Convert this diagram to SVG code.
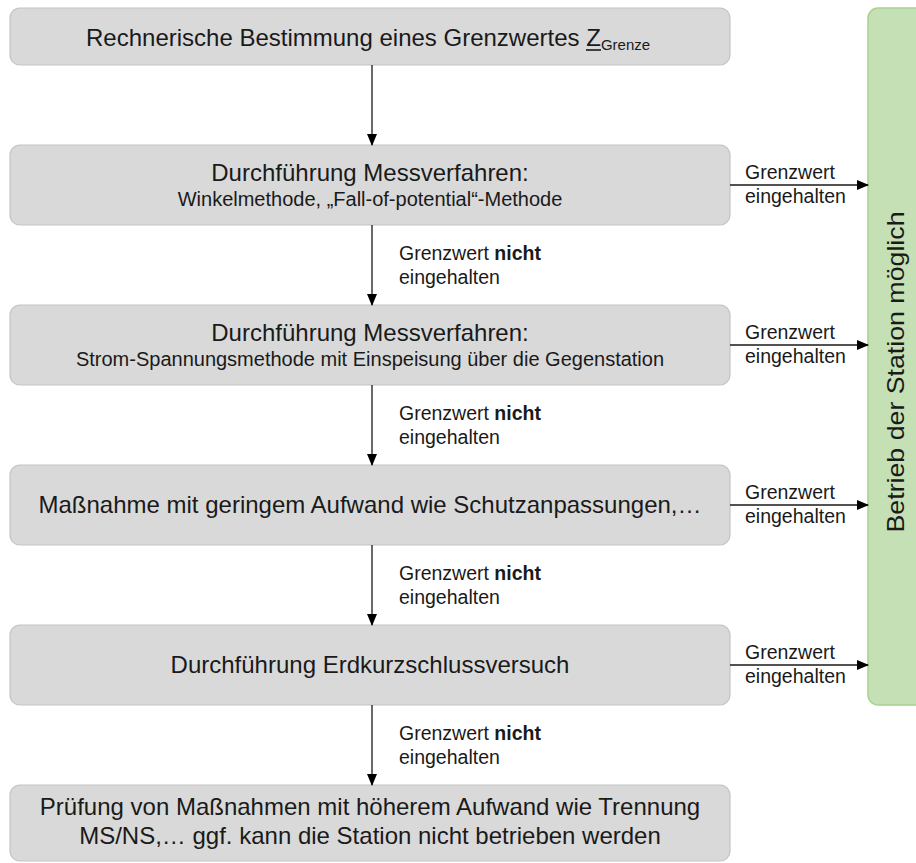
<svg xmlns="http://www.w3.org/2000/svg" width="916" height="863" viewBox="0 0 916 863">
<style>
  .box{fill:#d9d9d9;stroke:#c3c3c3;stroke-width:1.2}
  .green{fill:#c5e0b4;stroke:#a9d18e;stroke-width:1.5}
  .t{font-family:"Liberation Sans",Arial,sans-serif;fill:#1a1a1a}
  .big{font-size:24px}
  .sub{font-size:20px}
  .lbl{font-size:19.5px}
  .con{stroke:#1a1a1a;stroke-width:1.3;fill:none}
</style>
<defs>
  <marker id="ah" markerWidth="12" markerHeight="10" refX="11" refY="5" orient="auto" markerUnits="userSpaceOnUse">
    <path d="M0,0 L12,5 L0,10 Z" fill="#000"/>
  </marker>
</defs>
<rect width="916" height="863" fill="#fff"/>

<g id="n1">
  <rect class="box" x="10" y="8" width="720" height="57" rx="10"/>
  <text class="t big" x="86" y="46">Rechnerische Bestimmung eines Grenzwertes <tspan>Z</tspan><tspan font-size="15" dy="4">Grenze</tspan></text>
  <line x1="586" y1="50" x2="601" y2="50" stroke="#1a1a1a" stroke-width="1.6"/>
</g>
<g id="n2">
  <rect class="box" x="10" y="145" width="720" height="80" rx="10"/>
  <text class="t big" x="370" y="181" text-anchor="middle">Durchführung Messverfahren:</text>
  <text class="t sub" x="370" y="206" text-anchor="middle">Winkelmethode, „Fall-of-potential“-Methode</text>
</g>
<g id="n3">
  <rect class="box" x="10" y="305" width="720" height="80" rx="10"/>
  <text class="t big" x="370" y="341" text-anchor="middle">Durchführung Messverfahren:</text>
  <text class="t sub" x="370" y="366" text-anchor="middle">Strom-Spannungsmethode mit Einspeisung über die Gegenstation</text>
</g>
<g id="n4">
  <rect class="box" x="10" y="465" width="720" height="80" rx="10"/>
  <text class="t big" x="370" y="513" text-anchor="middle">Maßnahme mit geringem Aufwand wie Schutzanpassungen,…</text>
</g>
<g id="n5">
  <rect class="box" x="10" y="625" width="720" height="80" rx="10"/>
  <text class="t big" x="370" y="673" text-anchor="middle">Durchführung Erdkurzschlussversuch</text>
</g>
<g id="n6">
  <rect class="box" x="10" y="785" width="720" height="76" rx="10"/>
  <text class="t big" x="370" y="815" text-anchor="middle">Prüfung von Maßnahmen mit höherem Aufwand wie Trennung</text>
  <text class="t big" x="370" y="844" text-anchor="middle">MS/NS,… ggf. kann die Station nicht betrieben werden</text>
</g>
<g id="n7">
  <rect class="green" x="868" y="8" width="60" height="697" rx="10"/>
  <text class="t big" transform="translate(904,372) rotate(-90)" text-anchor="middle" textLength="321" lengthAdjust="spacingAndGlyphs">Betrieb der Station möglich</text>
</g>

<g id="connectors">
  <line class="con" x1="372" y1="65" x2="372" y2="145" marker-end="url(#ah)"/>
  <line class="con" x1="372" y1="225" x2="372" y2="305" marker-end="url(#ah)"/>
  <line class="con" x1="372" y1="385" x2="372" y2="465" marker-end="url(#ah)"/>
  <line class="con" x1="372" y1="545" x2="372" y2="625" marker-end="url(#ah)"/>
  <line class="con" x1="372" y1="705" x2="372" y2="785" marker-end="url(#ah)"/>
  <line class="con" x1="730" y1="185" x2="868" y2="185" marker-end="url(#ah)"/>
  <line class="con" x1="730" y1="345" x2="868" y2="345" marker-end="url(#ah)"/>
  <line class="con" x1="730" y1="505" x2="868" y2="505" marker-end="url(#ah)"/>
  <line class="con" x1="730" y1="665" x2="868" y2="665" marker-end="url(#ah)"/>

  <g class="t lbl">
    <text x="399" y="260">Grenzwert <tspan font-weight="bold">nicht</tspan></text>
    <text x="399" y="284">eingehalten</text>
    <text x="399" y="420">Grenzwert <tspan font-weight="bold">nicht</tspan></text>
    <text x="399" y="444">eingehalten</text>
    <text x="399" y="580">Grenzwert <tspan font-weight="bold">nicht</tspan></text>
    <text x="399" y="604">eingehalten</text>
    <text x="399" y="740">Grenzwert <tspan font-weight="bold">nicht</tspan></text>
    <text x="399" y="764">eingehalten</text>

    <text x="745" y="179">Grenzwert</text>
    <text x="745" y="203">eingehalten</text>
    <text x="745" y="339">Grenzwert</text>
    <text x="745" y="363">eingehalten</text>
    <text x="745" y="499">Grenzwert</text>
    <text x="745" y="523">eingehalten</text>
    <text x="745" y="659">Grenzwert</text>
    <text x="745" y="683">eingehalten</text>
  </g>
</g>
</svg>
